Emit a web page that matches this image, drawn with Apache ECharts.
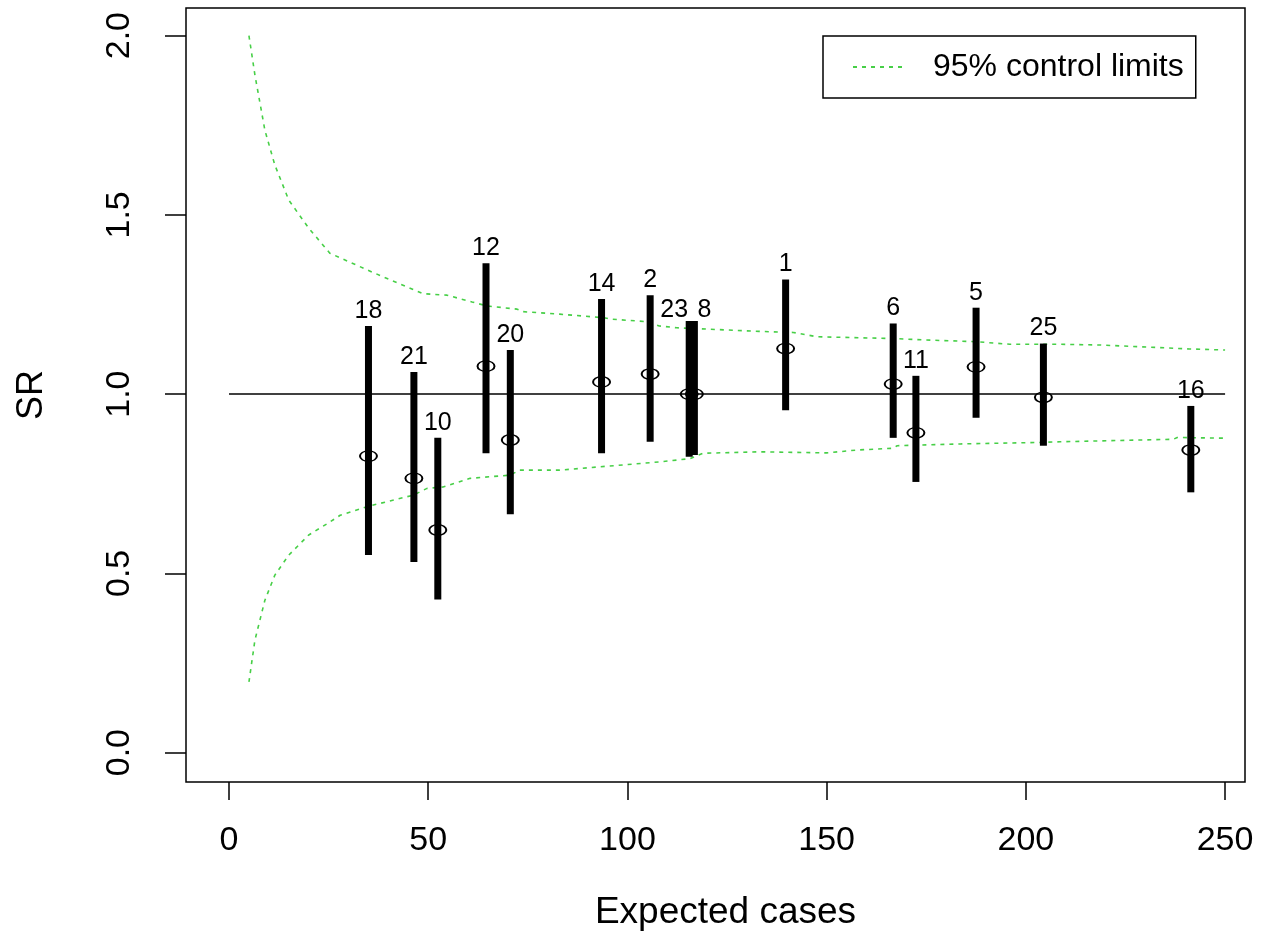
<!DOCTYPE html>
<html>
<head>
<meta charset="utf-8">
<script src="https://cdn.jsdelivr.net/npm/echarts@6/dist/echarts.min.js"></script>
<style>
  html, body { margin: 0; padding: 0; background: #fff; }
  #chart { width: 1264px; height: 938px; }
</style>
</head>
<body>
<div id="chart"></div>
<script>
// areas (label), expected cases, SR and its interval
const areaIds  = ['18', '21', '10', '12', '20', '14', '2', '23', '8', '1', '6', '11', '5', '25', '16'];
const expected = [35.0, 46.4, 52.4, 64.5, 70.6, 93.5, 105.7, 115.5, 116.8, 139.7, 166.7, 172.4, 187.5, 204.4, 241.4];
const srValues = [0.827, 0.765, 0.621, 1.078, 0.872, 1.034, 1.056, 1.0, 1.0, 1.127, 1.028, 0.892, 1.076, 0.991, 0.844];
const srLower  = [0.551, 0.532, 0.427, 0.835, 0.665, 0.835, 0.867, 0.825, 0.83, 0.955, 0.878, 0.755, 0.934, 0.856, 0.726];
const srUpper  = [1.19, 1.062, 0.878, 1.365, 1.123, 1.265, 1.276, 1.204, 1.204, 1.32, 1.197, 1.051, 1.241, 1.141, 0.967];

// 95% control limits (funnel)
const upperX = [5, 6.5, 9, 11.5, 15, 20, 25.3, 36, 48.7, 54.7, 61, 64.7, 72.3, 73.8, 83, 94, 96, 105, 108, 112.4, 133, 141.6, 147.6, 166.7, 175, 187.8, 196, 208.6, 218.6, 231, 241, 250];
const upperY = [2.0, 1.89, 1.736, 1.639, 1.541, 1.463, 1.393, 1.34, 1.28, 1.276, 1.257, 1.246, 1.237, 1.23, 1.223, 1.213, 1.209, 1.202, 1.19, 1.185, 1.175, 1.172, 1.16, 1.155, 1.151, 1.146, 1.139, 1.139, 1.137, 1.131, 1.126, 1.123];
const lowerX = [5, 6.5, 9, 11.5, 15, 20, 25, 27.9, 34.6, 46.2, 49.7, 53.7, 60.5, 70.5, 73, 83, 108.2, 115.7, 119, 133.3, 150, 157.6, 166.7, 167.7, 183.5, 202.8, 208.6, 228.7, 237, 238, 250];
const lowerY = [0.197, 0.314, 0.425, 0.495, 0.551, 0.607, 0.641, 0.662, 0.686, 0.718, 0.737, 0.741, 0.765, 0.774, 0.788, 0.788, 0.811, 0.82, 0.835, 0.839, 0.836, 0.844, 0.849, 0.856, 0.861, 0.865, 0.867, 0.872, 0.874, 0.879, 0.877];

// axis ticks
const xTicks = [0, 50, 100, 150, 200, 250];
const yTicks = [0, 0.5, 1, 1.5, 2];
const refLine = [[0, 1], [250, 1]];

const FONT = '"Liberation Sans", Arial, sans-serif';
const GREEN = '#47cf47';

// labels that R nudged apart where bars overlap
const labelShift = { '23': -15, '8': 10 };

const chart = echarts.init(document.getElementById('chart'));

const pointData = areaIds.map((id, i) => [expected[i], srValues[i], srLower[i], srUpper[i], id]);

const renderInterval = function (params, api) {
  const x = api.value(0);
  const p = api.coord([x, api.value(1)]);
  const lo = api.coord([x, api.value(2)]);
  const hi = api.coord([x, api.value(3)]);
  const id = areaIds[params.dataIndex];
  return {
    type: 'group',
    children: [
      {
        type: 'line',
        shape: { x1: lo[0], y1: lo[1], x2: hi[0], y2: hi[1] },
        style: { stroke: '#000', lineWidth: 7, lineCap: 'butt' }
      },
      {
        type: 'circle',
        x: p[0], y: p[1], scaleY: 0.62,
        shape: { cx: 0, cy: 0, r: 8.5 },
        style: { fill: 'none', stroke: '#000', lineWidth: 2 }
      },
      {
        type: 'text',
        style: {
          text: id,
          x: hi[0] + (labelShift[id] || 0),
          y: hi[1] - (labelShift[id] ? 11 : 15),
          align: 'center',
          verticalAlign: 'middle',
          font: '25px ' + FONT,
          fill: '#000'
        }
      }
    ]
  };
};

chart.setOption({
  animation: false,
  backgroundColor: '#fff',
  grid: {
    left: 186, right: 19, top: 8, bottom: 156,
    show: true, borderColor: '#000', borderWidth: 1.5, backgroundColor: 'transparent'
  },
  legend: {
    data: ['95% control limits'],
    left: 823, top: 36,
    padding: [15, 12, 15, 29],
    itemWidth: 53, itemHeight: 14,
    borderColor: '#000', borderWidth: 1.5, borderRadius: 0,
    itemStyle: { opacity: 0 },
    textStyle: { fontSize: 32, fontFamily: FONT, color: '#000', padding: [0, 0, 0, 22] }
  },
  xAxis: {
    type: 'value',
    min: -10.8, max: 255,
    name: 'Expected cases',
    nameLocation: 'middle',
    nameGap: 112,
    nameTextStyle: { fontSize: 37, fontFamily: FONT, color: '#000', padding: [0, 0, 0, 20] },
    axisLine: { show: false, onZero: false },
    axisTick: { show: true, inside: false, length: 18, customValues: xTicks, lineStyle: { color: '#000', width: 1.5 } },
    axisLabel: { customValues: xTicks, margin: 42, fontSize: 34, fontFamily: FONT, color: '#000' },
    splitLine: { show: false }
  },
  yAxis: {
    type: 'value',
    min: -0.082, max: 2.077,
    name: 'SR',
    nameLocation: 'middle',
    nameGap: 136,
    nameRotate: 90,
    nameTextStyle: { fontSize: 36, fontFamily: FONT, color: '#000' },
    axisLine: { show: false, onZero: false },
    axisTick: { show: true, inside: false, length: 21, customValues: yTicks, lineStyle: { color: '#000', width: 1.5 } },
    axisLabel: {
      customValues: yTicks, rotate: 90, margin: 49, fontSize: 34, fontFamily: FONT, color: '#000',
      formatter: v => v.toFixed(1)
    },
    splitLine: { show: false }
  },
  series: [
    {
      name: 'ref',
      type: 'line',
      data: refLine,
      symbol: 'none',
      silent: true,
      lineStyle: { color: '#000', width: 1.5 }
    },
    {
      name: '95% control limits',
      type: 'line',
      data: upperX.map((x, i) => [x, upperY[i]]),
      symbol: 'none',
      lineStyle: { color: GREEN, width: 1.6, type: [4, 5] },
      itemStyle: { color: GREEN }
    },
    {
      name: '95% control limits',
      type: 'line',
      data: lowerX.map((x, i) => [x, lowerY[i]]),
      symbol: 'none',
      lineStyle: { color: GREEN, width: 1.6, type: [4, 5] },
      itemStyle: { color: GREEN }
    },
    {
      name: 'SR',
      type: 'custom',
      data: pointData,
      renderItem: renderInterval,
      z: 5
    }
  ]
});
</script>
</body>
</html>
